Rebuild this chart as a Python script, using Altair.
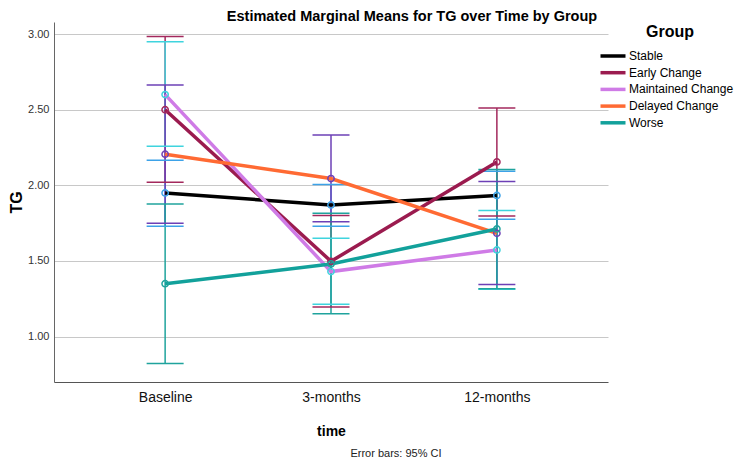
import altair as alt
import pandas as pd

times = ["Baseline", "3-months", "12-months"]
groups = ["Stable", "Early Change", "Maintained Change", "Delayed Change", "Worse"]

stable_mean = [1.95, 1.87, 1.933]
stable_lo = [1.73, 1.73, 1.776]
stable_hi = [2.166, 2.005, 2.093]
early_mean = [2.50, 1.498, 2.155]
early_lo = [2.02, 1.196, 1.798]
early_hi = [2.984, 1.80, 2.512]
maint_mean = [2.60, 1.43, 1.573]
maint_lo = [2.259, 1.214, 1.313]
maint_hi = [2.95, 1.65, 1.833]
delayed_mean = [2.206, 2.045, 1.683]
delayed_lo = [1.75, 1.76, 1.344]
delayed_hi = [2.664, 2.333, 2.025]
worse_mean = [1.35, 1.48, 1.712]
worse_lo = [0.823, 1.152, 1.317]
worse_hi = [1.877, 1.815, 2.105]

line_colors = ["#000000", "#9b1b4f", "#cf7be6", "#ff6a33", "#12a19b"]
bar_colors = ["#3da2e8", "#a3285c", "#3fd4de", "#6d40b6", "#1fa39d"]

y_ticks = [1.0, 1.5, 2.0, 2.5, 3.0]

means = [stable_mean, early_mean, maint_mean, delayed_mean, worse_mean]
los = [stable_lo, early_lo, maint_lo, delayed_lo, worse_lo]
his = [stable_hi, early_hi, maint_hi, delayed_hi, worse_hi]

eb_keys = ["eb " + g for g in groups]

rows = []
for g, k, m, lo, hi in zip(groups, eb_keys, means, los, his):
    for i, (t, mv, lv, hv) in enumerate(zip(times, m, lo, hi)):
        rows.append({"Group": g, "EB": k, "time": t, "ti": i,
                     "mean": mv, "lower": lv, "upper": hv})
df = pd.DataFrame(rows)

FONT = "Liberation Sans"

x_enc = alt.X(
    "time:N",
    sort=times,
    scale=alt.Scale(type="point", domain=times, padding=0.67),
    axis=alt.Axis(
        title="time", labelFontSize=14, labelColor="#111111", labelPadding=8,
        ticks=False, tickSize=0, domainColor="#555555", grid=False,
        titleFontSize=14, titleFontWeight="bold", titleColor="#000000", titlePadding=20,
        labelAngle=0,
    ),
)
x2_enc = alt.X2("time:N")

y_scale = alt.Scale(domain=[0.70, 3.08], nice=False, zero=False)
y_axis = alt.Axis(
    title="TG", values=y_ticks, format=".2f", labelFontSize=11, labelColor="#333333",
    labelPadding=5, ticks=False, tickSize=0, domainColor="#666666",
    gridColor="#c8c8c8", gridWidth=1, titleFontSize=16, titleFontWeight="bold",
    titleColor="#000000", titlePadding=3,
)

stroke_enc = alt.Stroke("EB:N", scale=alt.Scale(domain=eb_keys, range=bar_colors), legend=None)

base = alt.Chart(df)

err = base.mark_rule(strokeWidth=1.5).encode(
    x=x_enc,
    y=alt.Y("lower:Q", scale=y_scale, axis=y_axis),
    y2="upper:Q",
    stroke=stroke_enc,
)
cap_hi = base.mark_rule(strokeWidth=1.5, xOffset=-18.5, x2Offset=18.5).encode(
    x=x_enc, x2=x2_enc, y=alt.Y("upper:Q", scale=y_scale), stroke=stroke_enc,
)
cap_lo = base.mark_rule(strokeWidth=1.5, xOffset=-18.5, x2Offset=18.5).encode(
    x=x_enc, x2=x2_enc, y=alt.Y("lower:Q", scale=y_scale), stroke=stroke_enc,
)

lines = base.mark_line(strokeWidth=3.5).encode(
    x=x_enc,
    y=alt.Y("mean:Q", scale=y_scale),
    color=alt.Color(
        "Group:N",
        scale=alt.Scale(domain=groups, range=line_colors),
        legend=alt.Legend(
            title="Group", orient="none", legendX=552, legendY=2,
            symbolType="M-2.5,0L2.5,0", symbolSize=100, symbolStrokeWidth=3.5,
            labelFontSize=12, labelColor="#000000", labelOffset=9,
            titleFontSize=16, titleFontWeight="bold", titleColor="#000000",
            titleAnchor="middle", titlePadding=9, rowPadding=2.7,
        ),
    ),
    order=alt.Order("ti:Q"),
)

pts = base.mark_point(filled=False, size=40, strokeWidth=1.5, opacity=1).encode(
    x=x_enc, y=alt.Y("mean:Q", scale=y_scale), stroke=stroke_enc,
)

note = alt.Chart(pd.DataFrame({"t": ["Error bars: 95% CI"]})).mark_text(
    fontSize=11, color="#222222", align="center", baseline="middle", font=FONT
).encode(text="t:N", x=alt.value(342), y=alt.value(432))

chart = alt.layer(err, cap_hi, cap_lo, lines, pts, note).properties(
    width=554,
    height=360,
    autosize=alt.AutoSizeParams(type="none"),
    padding={"left": 46, "top": 14, "right": 128, "bottom": 76},
    title=alt.TitleParams(
        "Estimated Marginal Means for TG over Time by Group",
        fontSize=14.5, fontWeight="bold", color="#000000", anchor="middle",
        frame="group", dx=81, dy=2, offset=0, font=FONT,
    ),
).configure(font=FONT).configure_view(stroke=None)

chart.save("out.html", embed_options={"renderer": "svg", "actions": False})
